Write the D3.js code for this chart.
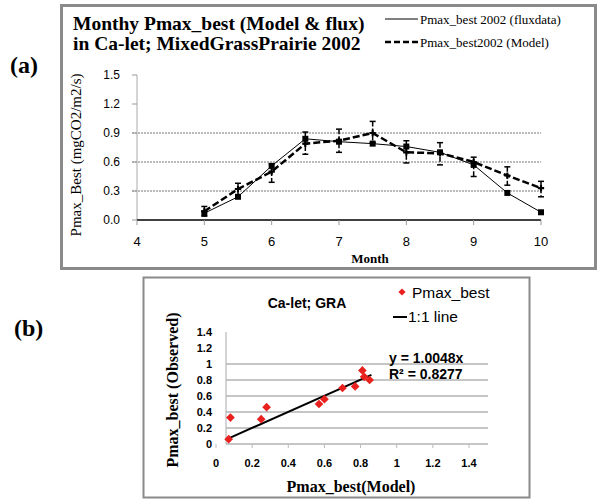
<!DOCTYPE html>
<html>
<head>
<meta charset="utf-8">
<script src="https://cdn.jsdelivr.net/npm/d3@7"></script>
<style>
  body { margin: 0; background: #fff; }
  text { fill: #000; }
</style>
</head>
<body>
<script>
// panel (a) data
let months = [5, 5.5, 6, 6.5, 7, 7.5, 8, 8.5, 9, 9.5, 10]
let fluxVals = [0.07, 0.24, 0.56, 0.84, 0.81, 0.79, 0.76, 0.70, 0.57, 0.28, 0.08]
let modelVals = [0.09, 0.32, 0.50, 0.79, 0.82, 0.90, 0.70, 0.69, 0.60, 0.46, 0.33]
let modelHigh = [0.14, 0.38, 0.58, 0.91, 0.94, 1.02, 0.82, 0.80, 0.65, 0.55, 0.40]
let modelLow = [0.04, 0.24, 0.39, 0.68, 0.70, 0.80, 0.59, 0.57, 0.45, 0.36, 0.24]
let aXTicks = [4, 5, 6, 7, 8, 9, 10]
let aYTicks = [0, 0.3, 0.6, 0.9, 1.2, 1.5]
let aGrid = [0.3, 0.6, 0.9]

// panel (b) data
let modelX = [0.07, 0.08, 0.25, 0.28, 0.57, 0.60, 0.70, 0.77, 0.81, 0.82, 0.85]
let observedY = [0.06, 0.33, 0.31, 0.46, 0.50, 0.56, 0.70, 0.72, 0.92, 0.84, 0.80]
let slope = 1.0048
let fitRange = [0.07, 0.86]
let bTicks = [0, 0.2, 0.4, 0.6, 0.8, 1, 1.2, 1.4]
let bGrid = [0.2, 0.4, 0.6, 0.8, 1]

let width = 597
let height = 499
let serif = "'Liberation Serif', 'Times New Roman', serif"
let sans = "'Liberation Sans', Arial, sans-serif"

let svg = d3.select("body").append("svg")
    .attr("width", width)
    .attr("height", height)

// ---------- panel (a) ----------
svg.append("rect")
    .attr("x", 61.5).attr("y", 5.5).attr("width", 534).attr("height", 263)
    .attr("fill", "none").attr("stroke", "#8a8a8a").attr("stroke-width", 3)

svg.append("text").attr("x", 10).attr("y", 73)
    .style("font-family", serif).style("font-size", "24px").style("font-weight", "bold")
    .text("(a)")

let xA = d3.scaleLinear().domain([4, 10]).range([137, 541])
let yA = d3.scaleLinear().domain([0, 1.5]).range([220, 75])

let ga = svg.append("g")

ga.selectAll("line.grid").data(aGrid).enter().append("line")
    .attr("x1", xA(4) - 5).attr("x2", xA(10))
    .attr("y1", d => yA(d)).attr("y2", d => yA(d))
    .attr("stroke", "#777").attr("stroke-width", 1).attr("stroke-dasharray", "2,1")

// y axis
ga.append("line")
    .attr("x1", xA(4)).attr("x2", xA(4)).attr("y1", yA(1.5)).attr("y2", yA(0))
    .attr("stroke", "#aaa")
ga.selectAll("line.ytick").data(aYTicks).enter().append("line")
    .attr("x1", xA(4) - 5).attr("x2", xA(4))
    .attr("y1", d => yA(d)).attr("y2", d => yA(d))
    .attr("stroke", "#999")
ga.selectAll("text.ylab").data(aYTicks).enter().append("text")
    .attr("x", 120).attr("y", d => yA(d) + 4)
    .attr("text-anchor", "end")
    .style("font-family", sans).style("font-size", "12px")
    .text(d => d.toFixed(1))

// x axis
ga.append("line")
    .attr("x1", xA(4)).attr("x2", xA(10)).attr("y1", yA(0)).attr("y2", yA(0))
    .attr("stroke", "#000").attr("stroke-width", 1.5)
ga.selectAll("line.xtick").data(aXTicks).enter().append("line")
    .attr("x1", d => xA(d)).attr("x2", d => xA(d))
    .attr("y1", yA(0)).attr("y2", yA(0) + 5)
    .attr("stroke", "#999")
ga.selectAll("text.xlab").data(aXTicks).enter().append("text")
    .attr("x", d => xA(d)).attr("y", 246)
    .attr("text-anchor", "middle")
    .style("font-family", sans).style("font-size", "13px")
    .text(d => d)

ga.append("text").attr("x", 370).attr("y", 263)
    .attr("text-anchor", "middle")
    .style("font-family", serif).style("font-size", "13px").style("font-weight", "bold")
    .text("Month")

ga.append("text")
    .attr("transform", "translate(81,155) rotate(-90)")
    .attr("text-anchor", "middle")
    .style("font-family", serif).style("font-size", "15px")
    .text("Pmax_Best (mgCO2/m2/s)")

// title
ga.append("text").attr("x", 73).attr("y", 30)
    .style("font-family", serif).style("font-size", "19.5px").style("font-weight", "bold")
    .text("Monthy Pmax_best (Model & flux)")
ga.append("text").attr("x", 73).attr("y", 50)
    .style("font-family", serif).style("font-size", "19.5px").style("font-weight", "bold")
    .text("in Ca-let; MixedGrassPrairie 2002")

// legend
ga.append("line").attr("x1", 385).attr("x2", 418).attr("y1", 19).attr("y2", 19)
    .attr("stroke", "#000").attr("stroke-width", 1)
ga.append("text").attr("x", 420).attr("y", 24)
    .style("font-family", serif).style("font-size", "13px")
    .text("Pmax_best 2002 (fluxdata)")
ga.append("line").attr("x1", 385).attr("x2", 418).attr("y1", 42).attr("y2", 42)
    .attr("stroke", "#000").attr("stroke-width", 2.5).attr("stroke-dasharray", "6,3")
ga.append("text").attr("x", 420).attr("y", 47)
    .style("font-family", serif).style("font-size", "13px")
    .text("Pmax_best2002 (Model)")

// error bars on model
let idx = d3.range(months.length)
ga.selectAll("line.err").data(idx).enter().append("line")
    .attr("x1", i => xA(months[i])).attr("x2", i => xA(months[i]))
    .attr("y1", i => yA(modelHigh[i])).attr("y2", i => yA(modelLow[i]))
    .attr("stroke", "#000").attr("stroke-width", 1.5).attr("stroke-dasharray", "5,2")
ga.selectAll("line.capHi").data(idx).enter().append("line")
    .attr("x1", i => xA(months[i]) - 3).attr("x2", i => xA(months[i]) + 3)
    .attr("y1", i => yA(modelHigh[i])).attr("y2", i => yA(modelHigh[i]))
    .attr("stroke", "#000").attr("stroke-width", 1.5)
ga.selectAll("line.capLo").data(idx).enter().append("line")
    .attr("x1", i => xA(months[i]) - 3).attr("x2", i => xA(months[i]) + 3)
    .attr("y1", i => yA(modelLow[i])).attr("y2", i => yA(modelLow[i]))
    .attr("stroke", "#000").attr("stroke-width", 1.5)

let fluxLine = d3.line().x(i => xA(months[i])).y(i => yA(fluxVals[i]))
let modelLine = d3.line().x(i => xA(months[i])).y(i => yA(modelVals[i]))

ga.append("path").attr("d", fluxLine(idx))
    .attr("fill", "none").attr("stroke", "#000").attr("stroke-width", 1)
ga.append("path").attr("d", modelLine(idx))
    .attr("fill", "none").attr("stroke", "#000").attr("stroke-width", 2.5)
    .attr("stroke-dasharray", "7,3")

ga.selectAll("rect.flux").data(idx).enter().append("rect")
    .attr("x", i => xA(months[i]) - 3).attr("y", i => yA(fluxVals[i]) - 3)
    .attr("width", 6).attr("height", 6).attr("fill", "#000")
ga.selectAll("path.model").data(idx).enter().append("path")
    .attr("d", d3.symbol().type(d3.symbolCross).size(22))
    .attr("transform", i => "translate(" + xA(months[i]) + "," + yA(modelVals[i]) + ")")
    .attr("fill", "#000")

// ---------- panel (b) ----------
svg.append("rect")
    .attr("x", 143.5).attr("y", 277.5).attr("width", 386).attr("height", 220)
    .attr("fill", "none").attr("stroke", "#8a8a8a").attr("stroke-width", 2)

svg.append("text").attr("x", 14).attr("y", 336)
    .style("font-family", serif).style("font-size", "24px").style("font-weight", "bold")
    .text("(b)")

let xB = d3.scaleLinear().domain([0, 1.4]).range([216, 469])
let yB = d3.scaleLinear().domain([0, 1.4]).range([444, 332])
let gridLeft = xB(0) + 10
let gridRight = xB(1.4) + 19

let gb = svg.append("g")

gb.selectAll("line.grid").data(bGrid).enter().append("line")
    .attr("x1", gridLeft).attr("x2", gridRight)
    .attr("y1", d => yB(d)).attr("y2", d => yB(d))
    .attr("stroke", "#8c8c8c").attr("stroke-width", 1)
gb.append("line")
    .attr("x1", gridLeft).attr("x2", gridRight).attr("y1", yB(0)).attr("y2", yB(0))
    .attr("stroke", "#8c8c8c")
gb.append("line")
    .attr("x1", gridLeft).attr("x2", gridLeft).attr("y1", yB(1.4)).attr("y2", yB(0))
    .attr("stroke", "#aaa")
gb.selectAll("line.xtick").data(bTicks).enter().append("line")
    .attr("x1", d => xB(d)).attr("x2", d => xB(d))
    .attr("y1", yB(0)).attr("y2", yB(0) + 4)
    .attr("stroke", "#bbb")

gb.selectAll("text.xlab").data(bTicks).enter().append("text")
    .attr("x", d => xB(d)).attr("y", 467)
    .attr("text-anchor", "middle")
    .style("font-family", sans).style("font-size", "11px").style("font-weight", "bold")
    .text(d => d)
gb.selectAll("text.ylab").data(bTicks).enter().append("text")
    .attr("x", 212).attr("y", d => yB(d) + 4)
    .attr("text-anchor", "end")
    .style("font-family", sans).style("font-size", "11px").style("font-weight", "bold")
    .text(d => d)

gb.append("text").attr("x", 351).attr("y", 492)
    .attr("text-anchor", "middle")
    .style("font-family", serif).style("font-size", "16px").style("font-weight", "bold")
    .text("Pmax_best(Model)")
gb.append("text")
    .attr("transform", "translate(178,390) rotate(-90)")
    .attr("text-anchor", "middle")
    .style("font-family", serif).style("font-size", "16px").style("font-weight", "bold")
    .text("Pmax_best (Observed)")

gb.append("text").attr("x", 307).attr("y", 308)
    .attr("text-anchor", "middle")
    .style("font-family", sans).style("font-size", "14px").style("font-weight", "bold")
    .text("Ca-let; GRA")

// fit line
gb.append("line")
    .attr("x1", xB(fitRange[0])).attr("y1", yB(fitRange[0] * slope))
    .attr("x2", xB(fitRange[1])).attr("y2", yB(fitRange[1] * slope))
    .attr("stroke", "#000").attr("stroke-width", 2)

// square diamonds (rotated squares), like Excel markers
let diamond = d3.symbol().type(d3.symbolSquare).size(38)
gb.selectAll("path.pt").data(d3.range(modelX.length)).enter().append("path")
    .attr("d", diamond)
    .attr("transform", i => "translate(" + xB(modelX[i]) + "," + yB(observedY[i]) + ") rotate(45)")
    .attr("fill", "#e8211f")

// legend b
gb.append("path")
    .attr("d", d3.symbol().type(d3.symbolSquare).size(26))
    .attr("transform", "translate(402,292) rotate(45)")
    .attr("fill", "#e8211f")
gb.append("text").attr("x", 412).attr("y", 298)
    .style("font-family", sans).style("font-size", "15.5px")
    .text("Pmax_best")
gb.append("line").attr("x1", 393).attr("x2", 407).attr("y1", 317).attr("y2", 317)
    .attr("stroke", "#000").attr("stroke-width", 2)
gb.append("text").attr("x", 408).attr("y", 322)
    .style("font-family", sans).style("font-size", "15.5px")
    .text("1:1 line")

gb.append("text").attr("x", 389).attr("y", 363)
    .style("font-family", sans).style("font-size", "14px").style("font-weight", "bold")
    .text("y = " + slope.toFixed(4) + "x")
gb.append("text").attr("x", 389).attr("y", 379)
    .style("font-family", sans).style("font-size", "14px").style("font-weight", "bold")
    .text("R² = 0.8277")
</script>
</body>
</html>
